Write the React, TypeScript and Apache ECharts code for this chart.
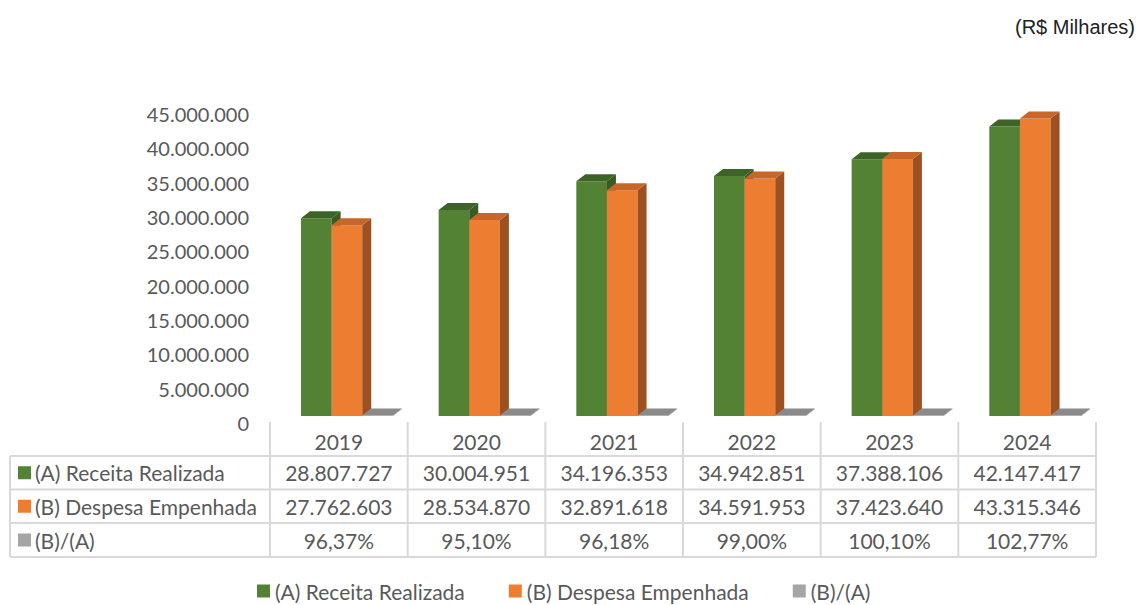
import React, { useEffect, useRef } from "react";
import * as echarts from "echarts";

const years = ["2019", "2020", "2021", "2022", "2023", "2024"];
const receita = [28807727, 30004951, 34196353, 34942851, 37388106, 42147417];
const despesa = [27762603, 28534870, 32891618, 34591953, 37423640, 43315346];
const ratio = [0.9637, 0.951, 0.9618, 0.99, 1.001, 1.0277];
const seriesNames = ["(A) Receita Realizada", "(B) Despesa Empenhada", "(B)/(A)"];
const yTicks = { min: 0, max: 45000000, interval: 5000000 };

const W = 1144;
const H = 605;
const GRID_LEFT = 270;
const GRID_RIGHT_X = 1096;
const GRID_TOP = 114;
const GRID_BOTTOM_Y = 423;
const SHIFT = 7;
const DX = 9;
const DY = -7;
const TABLE_LEFT = 10;
const ROW_Y = [456, 489.5, 523, 557];
const TEXT = "#595959";
const LINE = "#d9d9d9";
const FONT = "Lato";

const faces = [
  { front: "#548235", top: "#3d6426", side: "#395a22" },
  { front: "#ED7D31", top: "#c8662a", side: "#9d5121" },
  { front: "#A5A5A5", top: "#8a8a8a", side: "#777777" },
];

const fmt = (n: number) => String(n).replace(/\B(?=(\d{3})+(?!\d))/g, ".");
const fmtPct = (r: number) => (r * 100).toFixed(2).replace(".", ",") + "%";

const makeRender = (s: number) => (params: any, api: any) => {
  const i = api.value(0);
  const v = api.value(1);
  const base = api.coord([i, 0]);
  const top = api.coord([i, v]);
  const band = api.size([1, 0])[0];
  const w = band * 0.2225;
  const x0 = base[0] - band / 2 + band * 0.225 + s * w;
  const yb = base[1] - SHIFT;
  const yt = Math.min(top[1] - SHIFT, yb - 0.5);
  const c = faces[s];
  return {
    type: "group",
    children: [
      { type: "rect", shape: { x: x0, y: yt, width: w, height: yb - yt }, style: { fill: c.front } },
      {
        type: "polygon",
        shape: { points: [[x0 + w, yt], [x0 + w + DX, yt + DY], [x0 + w + DX, yb + DY], [x0 + w, yb]] },
        style: { fill: c.side },
      },
      {
        type: "polygon",
        shape: { points: [[x0, yt], [x0 + w, yt], [x0 + w + DX, yt + DY], [x0 + DX, yt + DY]] },
        style: { fill: c.top },
      },
    ],
  };
};

export default function App() {
  const ref = useRef<HTMLDivElement>(null);
  useEffect(() => {
    if (!ref.current) return;
    const chart = echarts.init(ref.current, null, { renderer: "svg" });
    const band = (GRID_RIGHT_X - GRID_LEFT) / years.length;
    const graphics: any[] = [];
    for (let k = 0; k <= years.length; k++) {
      const x = GRID_LEFT + k * band;
      graphics.push({ type: "line", shape: { x1: x, y1: GRID_BOTTOM_Y - 1, x2: x, y2: ROW_Y[3] }, style: { stroke: LINE, lineWidth: 2 } });
    }
    graphics.push({ type: "line", shape: { x1: TABLE_LEFT, y1: ROW_Y[0], x2: TABLE_LEFT, y2: ROW_Y[3] }, style: { stroke: LINE, lineWidth: 2 } });
    ROW_Y.forEach((y) => {
      graphics.push({ type: "line", shape: { x1: TABLE_LEFT, y1: y, x2: GRID_RIGHT_X, y2: y }, style: { stroke: LINE, lineWidth: 2 } });
    });
    const rows = [receita.map(fmt), despesa.map(fmt), ratio.map(fmtPct)];
    rows.forEach((vals, r) => {
      const cy = (ROW_Y[r] + ROW_Y[r + 1]) / 2;
      graphics.push({ type: "rect", shape: { x: 18, y: cy - 6.5, width: 13, height: 13 }, style: { fill: faces[r].front } });
      graphics.push({
        type: "text",
        x: 35,
        y: cy,
        style: { text: seriesNames[r], fill: TEXT, font: `21px ${FONT}`, textAlign: "left", textVerticalAlign: "middle" },
      });
      vals.forEach((t, k) => {
        graphics.push({
          type: "text",
          x: GRID_LEFT + (k + 0.5) * band,
          y: cy,
          style: { text: t, fill: TEXT, font: `21px ${FONT}`, textAlign: "center", textVerticalAlign: "middle" },
        });
      });
    });
    graphics.push({
      type: "text",
      right: 9,
      top: 17,
      style: { text: "(R$ Milhares)", fill: "#222222", font: "20px 'Liberation Sans'" },
    });

    const seriesData = [receita, despesa, ratio];
    chart.setOption({
      animation: false,
      backgroundColor: "#ffffff",
      grid: { left: GRID_LEFT, right: W - GRID_RIGHT_X, top: GRID_TOP, bottom: H - GRID_BOTTOM_Y },
      xAxis: {
        type: "category",
        data: years,
        axisLine: { show: false },
        axisTick: { show: false },
        axisLabel: { color: TEXT, fontSize: 21, fontFamily: FONT, margin: 8, interval: 0 },
      },
      yAxis: {
        type: "value",
        min: yTicks.min,
        max: yTicks.max,
        interval: yTicks.interval,
        splitLine: { show: false },
        axisLine: { show: false },
        axisTick: { show: false },
        axisLabel: { color: TEXT, fontSize: 20, fontFamily: FONT, margin: 21, formatter: (v: number) => fmt(v) },
      },
      legend: {
        left: 257,
        top: 580,
        padding: 0,
        itemWidth: 13,
        itemHeight: 13,
        itemGap: 44,
        icon: "rect",
        data: seriesNames,
        textStyle: { color: TEXT, fontSize: 21, fontFamily: FONT, lineHeight: 22, padding: 0 },
      },
      series: seriesData.map((vals, s) => ({
        type: "custom",
        name: seriesNames[s],
        renderItem: makeRender(s),
        itemStyle: { color: faces[s].front },
        encode: { x: 0, y: 1 },
        data: vals.map((v, i) => [i, v]),
      })),
      graphic: graphics,
    });
    return () => chart.dispose();
  }, []);
  return <div ref={ref} style={{ position: "absolute", left: 0, top: 0, width: W, height: H }} />;
}
